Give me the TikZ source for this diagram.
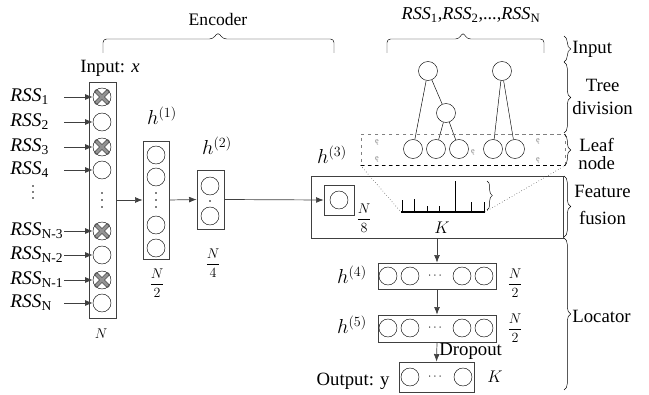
\documentclass[tikz,border=0pt]{standalone}
\usepackage{fontspec}
\setmainfont{Liberation Serif}
\usepackage{amsmath}
\usetikzlibrary{positioning, arrows.meta, decorations.pathreplacing, calc, fit}

\begin{document}
\begin{tikzpicture}[x=0.3mm, y=-0.3mm,
          lbl/.style={font=\fontsize{16}{18}\selectfont, inner sep=1pt},
          rsslbl/.style={font=\fontsize{16.5}{19}\selectfont, inner sep=1pt},
          hlbl/.style={font=\fontsize{16.5}{19}\selectfont, inner sep=1pt},
          frac/.style={font=\fontsize{13}{15}\selectfont, inner sep=1pt},
          dotn/.style={circle, fill, inner sep=0pt, minimum size=1.5pt},
          neu/.style={circle, draw, fill=white, minimum size=5.4mm, inner sep=0pt},
          leafn/.style={neu, minimum size=5.7mm},
          box/.style={draw=black!75, semithick, inner sep=0pt},
          arr/.style={-{Latex[length=6.5pt, width=5pt]}, draw=black!75, semithick},
          brc/.style={decorate, decoration={brace, amplitude=2mm}, thin},
          xout/.style={line cap=round, line width=3.6pt, black!70},
          xin/.style={line cap=round, line width=2.3pt, gray!85},
          tinye/.style={font=\fontsize{7}{8}\selectfont, text=gray, inner sep=0pt}
        ]
        \useasboundingbox (0,0) rectangle (649,395);

        % Encoder brace
        \node[lbl, font=\fontsize{15}{17}\selectfont] (enc) at (218,19) {Encoder};
        \draw[thin, rounded corners=3pt] (103,53) -- (103,39) -- (213,39)
              -- (218,32) -- (223,39) -- (334,39) -- (334,53);

        % Input column
        \node[lbl] (inlbl) at (110,68) {Input: \textit{x}};
        \node[box, fit={(89,82) (116,318)}] (inbox) {};
        \foreach \n/\s/\y in {1/1/97, 2/2/122, 3/3/147, 4/4/170,
                              5/N-3/231, 6/N-2/255, 7/N-1/280, 8/N/303} {
          \node[neu] (in\n) at (102,\y) {};
          \node[rsslbl, anchor=west] (rss\n) at (9,\y)
                {\textit{RSS}\textsubscript{\s}};
          \coordinate (a\n) at (64,\y);
          \draw[arr] (a\n) -- (in\n);
        }
        \foreach \n in {1,3,5,7} {
          \draw[xout] ($(in\n)+(-5.5,-5.5)$) -- ($(in\n)+(5.5,5.5)$)
                      ($(in\n)+(-5.5,5.5)$) -- ($(in\n)+(5.5,-5.5)$);
          \draw[xin] ($(in\n)+(-5.5,-5.5)$) -- ($(in\n)+(5.5,5.5)$)
                     ($(in\n)+(-5.5,5.5)$) -- ($(in\n)+(5.5,-5.5)$);
        }
        % vertical dots
        \foreach \k/\y in {1/186, 2/192, 3/198} {
          \node[dotn] (ld\k) at (33,\y) {};
        }
        \foreach \k/\y in {1/193, 2/200, 3/207} {
          \node[dotn, minimum size=1.3pt] (id\k) at (102,\y) {};
          \node[dotn, minimum size=1.3pt] (hd\k) at (156,\y) {};
        }
        \node[frac] (nin) at (101,334) {$N$};

        % h(1)
        \node[hlbl] (h1lbl) at (162,116) {$h^{(1)}$};
        \node[box, fit={(143,141) (169,259)}] (h1box) {};
        \foreach \n/\y in {1/155, 2/177, 3/225, 4/248}
          \node[neu] (ha\n) at (156,\y) {};
        \node[frac] (f2) at (157,283) {$\dfrac{N}{2}$};

        % h(2)
        \node[hlbl] (h2lbl) at (217,146) {$h^{(2)}$};
        \node[box, fit={(197,170) (224,229)}] (h2box) {};
        \node[neu] (hb1) at (210,186) {};
        \node[neu] (hb2) at (210,216) {};
        \node[dotn, minimum size=1.3pt] (h2dot) at (210,201) {};
        \node[frac] (f4) at (213,263) {$\dfrac{N}{4}$};

        % Feature fusion
        \node[box, fit={(311,176) (563,238)}] (fbox) {};
        \node[hlbl] (h3lbl) at (332,155) {$h^{(3)}$};
        \node[box, fit={(324,185) (354,215)}] (h3box) {};
        \node[neu] (h3n) at (339,200) {};
        \node[frac] (f8) at (364,218) {$\dfrac{N}{8}$};

        \draw[arr] (inbox.east) -- (h1box.west);
        \draw[arr] (h1box.east) -- (h2box.west);
        \draw[arr] (h2box.east) -- (h3box.west);

        % histogram
        \coordinate (hl) at (401,212);
        \coordinate (hr) at (485,212);
        \draw[line width=1.2pt] (hl) -- (hr);
        \foreach \x/\h in {402/200, 414/199, 427/206, 439/206, 455/181, 471/202, 484/202}
          \draw[thin] (\x,212) -- (\x,\h);
        \draw[brc, decoration={amplitude=1.6mm}] (487,181) -- (487,210);
        \node[font=\fontsize{15}{17}\selectfont] (klbl) at (442,228) {$K$};

        % Tree division
        \node[leafn] (r1) at (428,71) {};
        \node[leafn] (r2) at (502,71) {};
        \node[leafn] (m1) at (446,113) {};
        \foreach \n/\x in {1/413, 2/436, 3/459, 4/493, 5/515}
          \node[leafn] (l\n) at (\x,149) {};
        \draw (r1) -- (l1);
        \draw (r1) -- (m1);
        \draw (m1) -- (l2);
        \draw (m1) -- (l3);
        \draw (r2) -- (l4);
        \draw (r2) -- (l5);

        % Leaf node
        \node[draw=gray, dashed, thick, inner sep=0pt, fit={(361,134) (565,165)}] (leaf) {};
        \draw[dashed, thick] (leaf.south west) -- (leaf.south east);
        \foreach \n/\x/\y in {1/377/142, 2/377/159, 3/473/152, 4/538/141, 5/538/160}
          \node[tinye] (e\n) at (\x,\y) {ę};
        \draw[dotted, thin] (leaf.south west) -- (hl);
        \draw[dotted, thin] (hr) -- (leaf.south east);

        % RSS brace
        \node[rsslbl, font=\fontsize{15.5}{18}\selectfont] (rsstop) at (471,15)
              {\textit{RSS}\textsubscript{1},\textit{RSS}\textsubscript{2},...,\textit{RSS}\textsubscript{N}};
        \draw[thin, rounded corners=3pt] (387,53) -- (387,39) -- (459,39)
              -- (463,32) -- (467,39) -- (544,39) -- (544,53);

        % Locator
        \node[box, fit={(378,263) (496,289)}] (h4box) {};
        \node[box, fit={(378,315) (496,342)}] (h5box) {};
        \node[box, fit={(399,362) (474,392)}] (outbox) {};
        \foreach \n/\x in {1/388, 2/410, 3/462, 4/484} {
          \node[neu] (hc\n) at (\x,276) {};
          \node[neu] (hd\n) at (\x,328) {};
        }
        \node (h4dots) at (436,276) {$\cdots$};
        \node (h5dots) at (436,328) {$\cdots$};
        \node[neu] (o1) at (410,377) {};
        \node[neu] (o2) at (463,377) {};
        \node (odots) at (436,377) {$\cdots$};
        \node[hlbl] (h4lbl) at (352,275) {$h^{(4)}$};
        \node[hlbl] (h5lbl) at (352,325) {$h^{(5)}$};
        \node[frac] (f4a) at (515,283) {$\dfrac{N}{2}$};
        \node[frac] (f5a) at (515,328) {$\dfrac{N}{2}$};
        \node[lbl, anchor=east] (outlbl) at (391,381) {Output: y};
        \node[font=\fontsize{15}{17}\selectfont] (kout) at (495,377) {$K$};
        \draw[arr] (fbox.south) -- (h4box.north);
        \draw[arr] (h4box.south) -- (h5box.north);
        \draw[arr] (h5box.south) -- (outbox.north);
        \node[lbl, anchor=west] (drop) at (438,351) {Dropout};

        % Right braces
        \draw[brc] (564,36) -- (564,62);
        \draw[brc] (564,62) -- (564,133);
        \draw[brc] (564,134) -- (564,166);
        \draw[brc] (564,176) -- (564,237);
        \draw[brc] (564,238) -- (564,390);
        \node[lbl, anchor=west] (binput) at (571,49) {Input};
        \node[lbl, align=center, anchor=west] (btree) at (571,97) {Tree\\[1pt]division};
        \node[lbl, align=center, anchor=west] (bleaf) at (577,154) {Leaf\\[-3pt]node};
        \node[lbl, align=center, anchor=west] (bfeat) at (573,205) {Feature\\[5pt]fusion};
        \node[lbl, anchor=west] (bloc) at (571,316) {Locator};
      \end{tikzpicture}
\end{document}
